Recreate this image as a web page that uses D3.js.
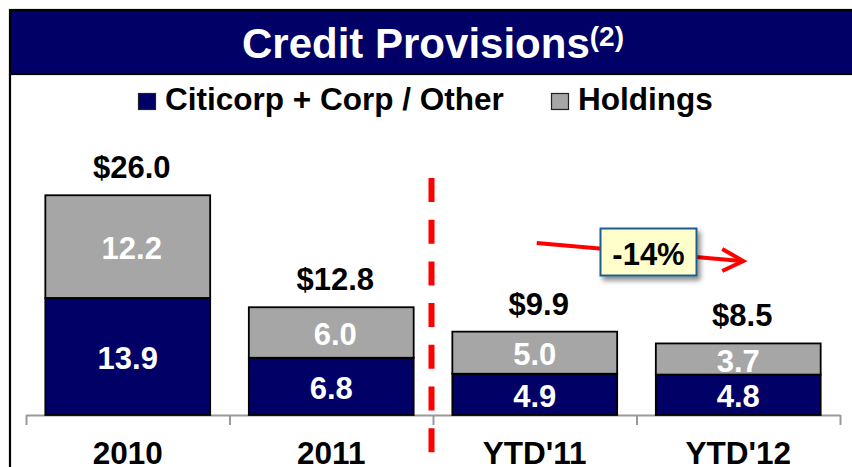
<!DOCTYPE html>
<html><head><meta charset="utf-8">
<script src="https://cdn.jsdelivr.net/npm/d3@7"></script>
<style>body{margin:0;background:#fff}svg{display:block}text{font-family:"Liberation Sans",Arial,sans-serif;font-weight:bold}</style>
</head><body><svg id="c" width="852" height="467"></svg>
<script>
const categories = ["2010", "2011", "YTD'11", "YTD'12"];
const citicorp = [13.9, 6.8, 4.9, 4.8];
const holdings = [12.2, 6.0, 5.0, 3.7];
const totals = [26.0, 12.8, 9.9, 8.5];
const seriesNames = ["Citicorp + Corp / Other", "Holdings"];
const changeLabel = "-14%";

const NAVY = "#000066", GRAY = "#A6A6A6";
const svg = d3.select("#c");

const defs = svg.append("defs");
const f = defs.append("filter").attr("id","sh").attr("x","-20%").attr("y","-20%").attr("width","150%").attr("height","160%");
f.append("feDropShadow").attr("dx",3).attr("dy",4).attr("stdDeviation",2.5).attr("flood-color","#000").attr("flood-opacity",0.45);

// title bar
svg.append("rect").attr("x",10).attr("y",10).attr("width",860).attr("height",64)
  .attr("fill",NAVY).attr("stroke","#000").attr("stroke-width",2.2);
const t = svg.append("text").attr("x",242).attr("y",58).attr("fill","#fff").attr("font-size",42).text("Credit Provisions");
t.append("tspan").attr("font-size",28).attr("dy",-12).text("(2)");
// left border
svg.append("line").attr("x1",10).attr("x2",10).attr("y1",74).attr("y2",467).attr("stroke","#000").attr("stroke-width",2.2);

// legend
const leg = [{x:138, c:NAVY, n:seriesNames[0]},{x:551, c:GRAY, n:seriesNames[1]}];
leg.forEach(l=>{
  svg.append("rect").attr("x",l.x+0.5).attr("y",93.5).attr("width",17).attr("height",16).attr("fill",l.c).attr("stroke","#222").attr("stroke-width",1.2);
  svg.append("text").attr("x",l.x+27).attr("y",110).attr("font-size",31.5).attr("fill","#000").text(l.n);
});

const x = d3.scaleBand().domain(categories).range([26,840]).paddingInner(0.19).paddingOuter(0.095);
const y = d3.scaleLinear().domain([0,26]).range([415,196.1]);

// axis with ticks at band boundaries
const xb = d3.scaleLinear().domain([0,categories.length]).range([26,840]);
const ax = svg.append("g").attr("transform","translate(0,415)")
  .call(d3.axisBottom(xb).ticks(categories.length).tickSize(10).tickSizeOuter(0).tickFormat(""));
ax.selectAll("path,line").attr("stroke","#999").attr("stroke-width",2);

const rows = categories.map((c,i)=>({cat:c, citicorp:citicorp[i], holdings:holdings[i], total:totals[i]}));
const stack = d3.stack().keys(["citicorp","holdings"])(rows);
const colors = {citicorp:NAVY, holdings:GRAY};

stack.forEach(s=>{
  const g = svg.append("g");
  g.selectAll("rect").data(s).join("rect")
    .attr("x",d=>x(d.data.cat)).attr("width",x.bandwidth())
    .attr("y",d=>y(d[1])).attr("height",d=>y(d[0])-y(d[1]))
    .attr("fill",colors[s.key]).attr("stroke","#000").attr("stroke-width",1.8);
  g.selectAll("text").data(s).join("text")
    .attr("x",d=>x(d.data.cat)+x.bandwidth()/2 + (s.key==="holdings" && d.data.total>12 ? 4 : 0))
    .attr("y",d=>(y(d[0])+y(d[1]))/2 + 12.5)
    .attr("text-anchor","middle").attr("fill","#fff").attr("font-size",31)
    .text(d=>d.data[s.key].toFixed(1));
});

// totals
svg.selectAll(".tot").data(rows).join("text").attr("class","tot")
  .attr("x",d=>x(d.cat)+x.bandwidth()/2+4)
  .attr("y",d=>y(d.citicorp+d.holdings)-17)
  .attr("text-anchor","middle").attr("fill","#000").attr("font-size",31)
  .text(d=>"$"+d.total.toFixed(1));

// category labels
svg.selectAll(".cat").data(categories).join("text").attr("class","cat")
  .attr("x",d=>x(d)+x.bandwidth()/2).attr("y",464)
  .attr("text-anchor","middle").attr("fill","#000").attr("font-size",31.5).text(d=>d);

// red dashed divider
const divX = xb(2)-1.5;
svg.append("line").attr("x1",divX).attr("x2",divX).attr("y1",178).attr("y2",467)
  .attr("stroke","#FF0000").attr("stroke-width",6).attr("stroke-dasharray","24 17.7");

// change arrow
const ax1 = x("YTD'11")+x.bandwidth()/2+2, ax2 = x("YTD'12")+x.bandwidth()/2+5;
svg.append("line").attr("x1",ax1).attr("y1",243).attr("x2",ax2-2).attr("y2",261)
  .attr("stroke","#FF0000").attr("stroke-width",4);
svg.append("path").attr("d",`M${ax2-21},249 L${ax2},261 L${ax2-21},271`)
  .attr("fill","none").attr("stroke","#FF0000").attr("stroke-width",4).attr("stroke-linejoin","miter");
// callout
svg.append("rect").attr("x",600.5).attr("y",228.5).attr("width",96).attr("height",47)
  .attr("fill","#FFFFCC").attr("stroke","#1F5F8F").attr("stroke-width",2).attr("filter","url(#sh)");
svg.append("text").attr("x",648.5).attr("y",265).attr("text-anchor","middle").attr("font-size",31).attr("fill","#000").text(changeLabel);
</script></body></html>
